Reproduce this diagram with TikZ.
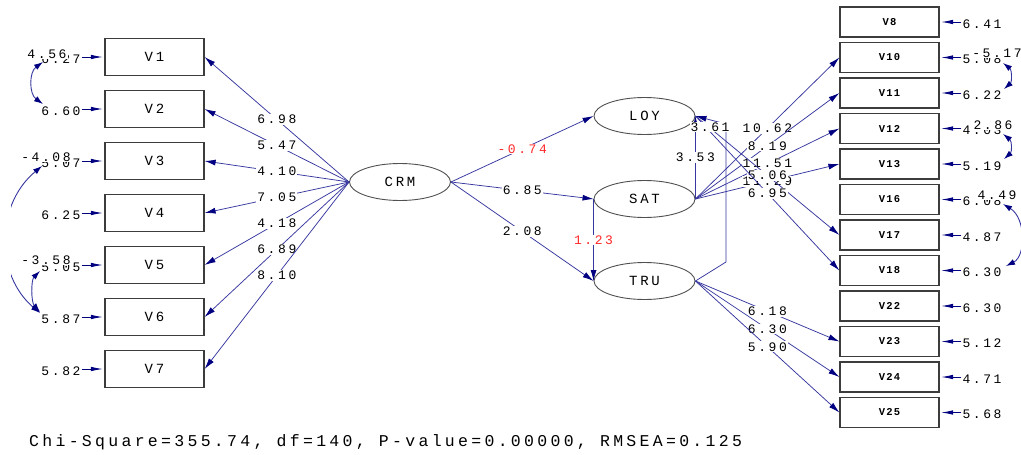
\documentclass[tikz,border=0pt]{standalone}
\usepackage{fontspec}
\usetikzlibrary{shapes.geometric,arrows.meta}
\newfontfamily\lbl[LetterSpace=20]{Liberation Mono}
\newfontfamily\rlbl[LetterSpace=12]{Liberation Mono}
\definecolor{ln}{RGB}{55,55,160}
\definecolor{hd}{RGB}{0,0,128}
\definecolor{rd}{RGB}{255,40,40}
\definecolor{bx}{RGB}{60,60,60}
\begin{document}
\begin{tikzpicture}[x=1pt,y=-1pt,
  box/.style={draw=bx, line width=1.2pt, minimum width=99pt, minimum height=37pt, inner sep=0pt, font=\fontsize{14}{14}\lbl},
  rbox/.style={draw=bx, line width=1.2pt, minimum width=99pt, minimum height=30pt, inner sep=0pt, font=\fontsize{10.5}{10.5}\bfseries\rlbl},
  lat/.style={ellipse, draw={rgb,255:red,80;green,80;blue,80}, line width=0.9pt, minimum width=101pt, minimum height=37pt, inner sep=0pt, font=\fontsize{14}{14}\lbl},
  ld/.style={draw=ln, line width=0.75pt, -{Latex[length=11pt,width=6pt,color=hd]}},
  ea/.style={draw=hd, line width=0.9pt, -{Latex[length=12pt,width=4.5pt,color=hd]}, shorten >=1.5pt},
  cv/.style={draw=ln, line width=0.9pt, {Latex[length=9pt,width=6pt,color=hd]}-{Latex[length=9pt,width=6pt,color=hd]}},
  val/.style={fill=white, inner sep=1pt, font=\fontsize{13}{13}\lbl, text=black},
  err/.style={inner sep=1pt, font=\fontsize{13}{13}\lbl, text=black},
]
\fill[white] (0,0) rectangle (1021,455);
\useasboundingbox (0,0) rectangle (1021,455);

% left observed
\node[box] (V1) at (154.5,57) {V1};
\node[box] (V2) at (154.5,109) {V2};
\node[box] (V3) at (154.5,161) {V3};
\node[box] (V4) at (154.5,213) {V4};
\node[box] (V5) at (154.5,265) {V5};
\node[box] (V6) at (154.5,317) {V6};
\node[box] (V7) at (154.5,369) {V7};

% right observed
\node[rbox] (V8) at (889.5,22) {V8};
\node[rbox] (V10) at (889.5,57.5) {V10};
\node[rbox] (V11) at (889.5,93) {V11};
\node[rbox] (V12) at (889.5,128.5) {V12};
\node[rbox] (V13) at (889.5,164) {V13};
\node[rbox] (V16) at (889.5,199.5) {V16};
\node[rbox] (V17) at (889.5,235) {V17};
\node[rbox] (V18) at (889.5,270.5) {V18};
\node[rbox] (V22) at (889.5,306) {V22};
\node[rbox] (V23) at (889.5,341.5) {V23};
\node[rbox] (V24) at (889.5,377) {V24};
\node[rbox] (V25) at (889.5,412.5) {V25};

% latent
\node[lat] (CRM) at (400,182) {CRM};
\node[lat] (LOY) at (644.5,116) {LOY};
\node[lat] (SAT) at (644.5,199) {SAT};
\node[lat] (TRU) at (644.5,281) {TRU};

% left errors
\node[err] (e1) at (61,59) {6.27};
\node[err] (e2) at (61,111) {6.60};
\node[err] (e3) at (61,163) {5.07};
\node[err] (e4) at (61,215) {6.25};
\node[err] (e5) at (61,267) {5.05};
\node[err] (e6) at (61,319) {5.87};
\node[err] (e7) at (61,371) {5.82};
\foreach \i in {1,...,7}{\draw[ea] (e\i.east |- V\i) -- (V\i.west);}

% right errors
\node[err] (r8) at (982,24) {6.41};
\node[err] (r10) at (982,59.5) {5.08};
\node[err] (r11) at (982,95) {6.22};
\node[err] (r12) at (982,130.5) {4.03};
\node[err] (r13) at (982,166) {5.19};
\node[err] (r16) at (982,201.5) {6.08};
\node[err] (r17) at (982,237) {4.87};
\node[err] (r18) at (982,272.5) {6.30};
\node[err] (r22) at (982,308) {6.30};
\node[err] (r23) at (982,343.5) {5.12};
\node[err] (r24) at (982,379) {4.71};
\node[err] (r25) at (982,414.5) {5.68};
\foreach \i in {8,10,11,12,13,16,17,18,22,23,24,25}{\draw[ea] (r\i.west |- V\i) -- (V\i.east);}

% left error covariances
\coordinate (a1) at (43,62); \coordinate (a2) at (43,104);
\draw[cv] (a1) .. controls (29,72) and (29,94) .. (a2);
\coordinate (a3) at (42,166); \coordinate (a6) at (40,313);
\begin{scope}
\clip (11,0) rectangle (1021,455);
\draw[cv] (a3) .. controls (-5,205) and (-5,275) .. (a6);
\end{scope}
\coordinate (a5) at (40,271); \coordinate (a6b) at (40,312);
\draw[cv] (a5) .. controls (31,280) and (31,302) .. (a6b);
\node[val] at (47,54) {4.56};
\node[val] at (46,157) {-4.08};
\node[val] at (46,260) {-3.58};

% right error covariances
\coordinate (b10) at (1003,63); \coordinate (b11) at (1004,89);
\draw[cv] (b10) .. controls (1012,70) and (1012,82) .. (b11);
\coordinate (b12) at (1003,134); \coordinate (b13) at (1004,159);
\draw[cv] (b12) .. controls (1012,141) and (1012,152) .. (b13);
\coordinate (b16) at (1003,204); \coordinate (b18) at (1006,266);
\draw[cv] (b16) .. controls (1026,218) and (1026,256) .. (b18);
\node[val] at (997,53) {-5.17};
\node[val] at (993,125) {2.86};
\node[val] at (997,195) {4.49};

% CRM -> left indicators
\draw[ld] (CRM.west) -- node[val]{6.98} (V1.east);
\draw[ld] (CRM.west) -- node[val]{5.47} (V2.east);
\draw[ld] (CRM.west) -- node[val]{4.10} (V3.east);
\draw[ld] (CRM.west) -- node[val]{7.05} (V4.east);
\draw[ld] (CRM.west) -- node[val]{4.18} (V5.east);
\draw[ld] (CRM.west) -- node[val]{6.89} (V6.east);
\draw[ld] (CRM.west) -- node[val]{8.10} (V7.east);

% structural paths
\draw[ld] (CRM.east) -- node[val,text=rd]{-0.74} (LOY.west);
\draw[ld] (CRM.east) -- node[val]{6.85} (SAT.west);
\draw[ld] (CRM.east) -- node[val]{2.08} (TRU.west);
\draw[ld] (SAT.west) -- node[val,text=rd]{1.23} (TRU.west);

% SAT -> right
\draw[ld] (SAT.east) -- node[val]{10.62} (V10.west);
\draw[ld] (SAT.east) -- node[val]{8.19} (V11.west);
\draw[ld] (SAT.east) -- node[val]{11.51} (V12.west);
\draw[ld] (SAT.east) -- node[val]{11.29} (V13.west);
% TRU -> right
\draw[ld] (TRU.east) -- node[val]{6.18} (V23.west);
\draw[ld] (TRU.east) -- node[val]{6.30} (V24.west);
\draw[ld] (TRU.east) -- node[val]{5.90} (V25.west);
% LOY -> right
\draw[ld] (LOY.east) -- node[val]{5.06} (V17.west);
\draw[ld] (LOY.east) -- node[val]{6.95} (V18.west);

% paths into LOY
\coordinate (t1) at (726,262); \coordinate (t2) at (726,124);
\draw[ld] (TRU.east) -- (t1) -- (t2) -- (LOY.east);
\draw[ld] (SAT.east) -- node[val]{3.53} (LOY.east);
\node[val] at (710,127) {3.61};

% fit
\node[anchor=west, inner sep=0pt, font=\fontsize{16.5}{16.5}\lbl] (fit) at (29,442) {Chi-Square=355.74, df=140, P-value=0.00000, RMSEA=0.125};
\end{tikzpicture}
\end{document}
